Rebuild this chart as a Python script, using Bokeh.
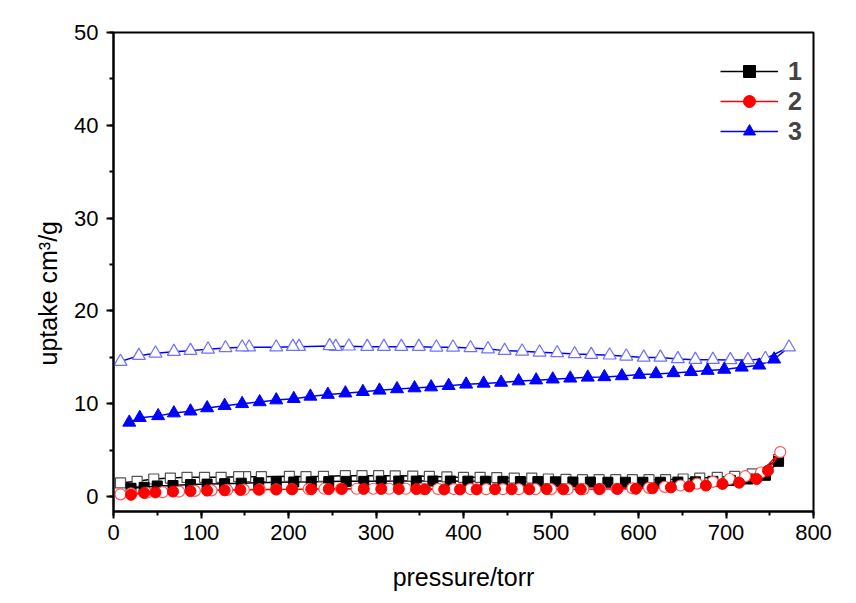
from bokeh.plotting import figure
from bokeh.models import Range1d, FixedTicker, Legend, LegendItem, Title
from bokeh.embed import file_html
from bokeh.resources import INLINE

# ---- data ----
s1_ads_x = [20, 35, 50, 68, 88, 107, 127, 146, 166, 186, 206, 226, 246, 266, 286, 306, 326, 346, 365, 385,
            405, 425, 445, 465, 485, 505, 525, 545, 565, 585, 605, 625, 645, 665, 685, 705, 725, 745, 760]
s1_ads_y = [0.9, 1.0, 1.15, 1.2, 1.3, 1.35, 1.4, 1.45, 1.5, 1.55, 1.58, 1.6, 1.62, 1.65, 1.65, 1.67, 1.68, 1.68, 1.68, 1.68,
            1.67, 1.66, 1.65, 1.63, 1.62, 1.6, 1.58, 1.57, 1.55, 1.55, 1.55, 1.55, 1.57, 1.6, 1.65, 1.75, 1.9, 2.3, 3.8]
s1_des_x = [760, 730, 710, 690, 670, 651, 631, 612, 593, 574, 555, 536, 517, 497, 478, 458, 438, 419, 400, 381,
            361, 342, 322, 303, 284, 265, 240, 220, 201, 169, 151, 143, 123, 104, 84, 65, 46, 27, 8]
s1_des_y = [4.0, 2.45, 2.19, 2.08, 2.0, 1.9, 1.83, 1.83, 1.83, 1.83, 1.83, 1.83, 1.85, 1.9, 2.0, 2.0, 2.05, 2.08, 2.08, 2.12,
            2.19, 2.22, 2.24, 2.26, 2.26, 2.26, 2.19, 2.15, 2.19, 2.15, 2.15, 2.15, 2.08, 2.08, 2.08, 2.0, 1.9, 1.65, 1.48]

s2_ads_x = [20, 35, 48, 68, 88, 107, 127, 145, 166, 186, 204, 226, 246, 261, 286, 306, 326, 346, 356, 378,
            396, 415, 436, 455, 475, 495, 514, 534, 555, 576, 597, 616, 637, 658, 677, 696, 715, 735, 748]
s2_ads_y = [0.2, 0.4, 0.46, 0.55, 0.6, 0.65, 0.68, 0.72, 0.75, 0.78, 0.8, 0.8, 0.82, 0.83, 0.83, 0.83, 0.83, 0.82, 0.8, 0.78,
            0.78, 0.78, 0.8, 0.8, 0.8, 0.82, 0.8, 0.8, 0.82, 0.83, 0.85, 0.9, 1.0, 1.1, 1.2, 1.37, 1.5, 1.9, 2.8]
s2_des_x = [762, 740, 722, 704, 685, 667, 648, 630, 612, 593, 575, 556, 537, 519, 500, 482, 463, 445, 426, 408, 389,
            371, 352, 334, 315, 297, 278, 260, 241, 223, 204, 186, 167, 149, 130, 112, 93, 75, 56, 38, 20, 8]
s2_des_y = [4.8, 2.6, 2.2, 1.9, 1.6, 1.4, 1.2, 1.05, 0.95, 0.9, 0.85, 0.82, 0.8, 0.8, 0.8, 0.8, 0.8, 0.8, 0.8, 0.82, 0.82,
            0.83, 0.85, 0.85, 0.85, 0.85, 0.85, 0.85, 0.85, 0.82, 0.8, 0.78, 0.78, 0.75, 0.72, 0.68, 0.62, 0.55, 0.48, 0.42, 0.35, 0.25]

s3_ads_x = [18, 30, 51, 69, 88, 107, 127, 147, 167, 186, 206, 225, 245, 265, 285, 304, 324, 344, 363, 383,
            403, 423, 443, 463, 483, 502, 522, 542, 561, 581, 601, 620, 640, 660, 679, 698, 718, 738, 755]
s3_ads_y = [8.0, 8.5, 8.7, 9.0, 9.2, 9.55, 9.8, 10.0, 10.2, 10.4, 10.55, 10.8, 11.0, 11.15, 11.3, 11.45, 11.6, 11.7, 11.8, 11.95,
            12.1, 12.2, 12.3, 12.45, 12.55, 12.65, 12.75, 12.85, 12.9, 13.0, 13.15, 13.22, 13.33, 13.45, 13.58, 13.7, 13.93, 14.15, 14.8]
s3_des_x = [772, 745, 725, 705, 685, 665, 645, 625, 606, 586, 567, 546, 527, 507, 487, 467, 447, 428, 408, 388, 369,
            349, 329, 309, 290, 269, 254, 247, 212, 205, 186, 155, 147, 128, 108, 88, 69, 48, 29, 8]
s3_des_y = [16.1, 14.85, 14.73, 14.73, 14.76, 14.76, 14.84, 15.0, 15.0, 15.12, 15.23, 15.3, 15.37, 15.48, 15.55, 15.66, 15.73, 15.9, 16.02, 16.09, 16.09,
            16.16, 16.16, 16.16, 16.16, 16.2, 16.16, 16.24, 16.16, 16.16, 16.1, 16.1, 16.1, 16.02, 15.87, 15.73, 15.62, 15.44, 15.19, 14.55]

x_ticks = [0, 100, 200, 300, 400, 500, 600, 700, 800]
y_ticks = [0, 10, 20, 30, 40, 50]
labels = ["1", "2", "3"]
x_title = "pressure/torr"
y_title = "uptake cm³/g"

FONT = "Liberation Sans"

p = figure(width=856, height=603, output_backend="svg", toolbar_location=None,
           x_range=Range1d(0, 800), y_range=Range1d(-1.6, 50),
           min_border_left=113, min_border_right=43, min_border_top=32, min_border_bottom=92)
p.grid.visible = False
p.background_fill_color = "white"
p.border_fill_color = "white"
p.outline_line_color = "black"
p.outline_line_width = 2

for ax in (p.xaxis[0], p.yaxis[0]):
    ax.axis_line_width = 2
    ax.major_tick_line_width = 2
    ax.minor_tick_line_width = 2
    ax.major_tick_out = 7
    ax.major_tick_in = 0
    ax.minor_tick_out = 4
    ax.minor_tick_in = 0
    ax.major_label_text_font = FONT
    ax.major_label_text_font_size = "22px"
    ax.major_label_text_color = "black"
    ax.axis_label_text_font = FONT
    ax.axis_label_text_font_size = "25px"
    ax.axis_label_text_font_style = "normal"
    ax.axis_label_text_color = "black"

p.xaxis.ticker = FixedTicker(ticks=x_ticks, minor_ticks=list(range(0, 801, 50)))
p.yaxis.ticker = FixedTicker(ticks=y_ticks, minor_ticks=list(range(0, 51, 5)))
p.xaxis.axis_label = x_title
p.xaxis.major_label_standoff = 6
p.yaxis.major_label_standoff = 8
p.xaxis.axis_label_standoff = 20

# y title as a side title (sits slightly below the frame centre, as in the original)
ytitle = Title(text=y_title, align="left", offset=146, text_font=FONT, text_font_size="25px",
               text_font_style="normal", text_color="black", standoff=19)
p.add_layout(ytitle, "left")

series = [
    (s1_ads_x, s1_ads_y, s1_des_x, s1_des_y, "black", "#555555", "square", 10),
    (s2_ads_x, s2_ads_y, s2_des_x, s2_des_y, "red", "#ff5555", "circle", 11),
    (s3_ads_x, s3_ads_y, s3_des_x, s3_des_y, "blue", "#7070ff", "triangle", 13),
]

items = []
for (ax_, ay_, dx_, dy_, col, lcol, mk, sz), lab in zip(series, labels):
    ln = p.line(ax_ + dx_, ay_ + dy_, line_color=col, line_width=1.5)
    p.scatter(dx_, dy_, marker=mk, size=sz, fill_color="white", line_color=lcol, line_width=1.2)
    sc = p.scatter(ax_, ay_, marker=mk, size=sz, fill_color=col, line_color=col, line_width=1)
    items.append(LegendItem(label=lab, renderers=[ln, sc]))

legend = Legend(items=items, location=(607, 365))
legend.label_text_font = FONT
legend.label_text_font_size = "25px"
legend.label_text_font_style = "bold"
legend.border_line_color = None
legend.background_fill_alpha = 0
legend.glyph_width = 58
legend.glyph_height = 30
legend.label_height = 30
legend.spacing = 0
legend.padding = 6
legend.margin = 0
legend.label_standoff = 10
p.add_layout(legend)

open("out.html", "w").write(file_html(p, INLINE))
